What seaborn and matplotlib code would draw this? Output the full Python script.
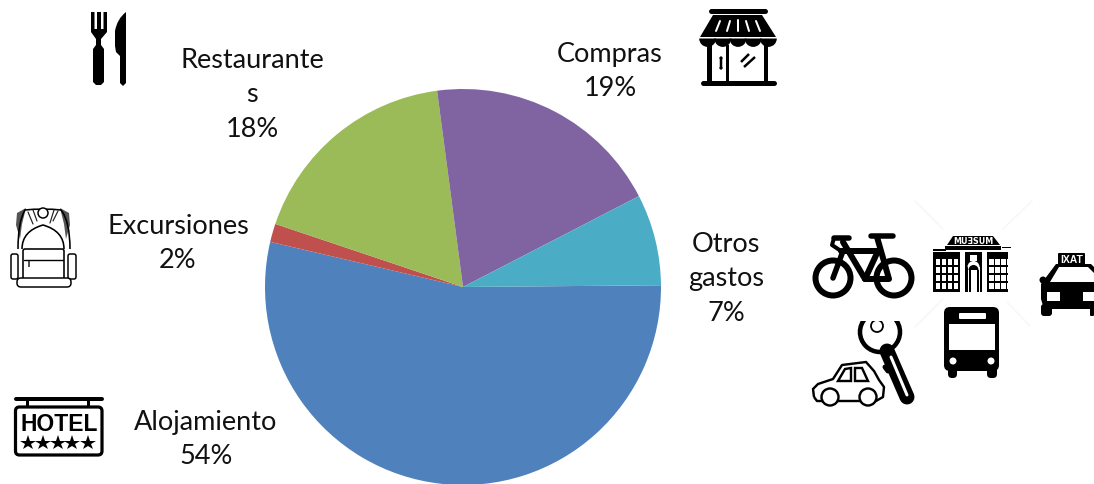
import matplotlib
matplotlib.use("Agg")
import matplotlib.pyplot as plt
import seaborn as sns
from matplotlib.patches import Circle, Polygon, Rectangle, FancyBboxPatch, PathPatch, Wedge
from matplotlib.path import Path

# =========================
# DATA
# =========================

categories = ["Alojamiento", "Excursiones", "Restaurantes", "Compras", "Otros gastos"]
slice_sizes = [53.8, 1.5, 17.75, 19.5, 7.45]
shown_labels = ["Alojamiento\n54%", "Excursiones\n2%", "Restaurante\ns\n18%", "Compras\n19%", "Otros\ngastos\n7%"]
slice_colors = ["#4F81BD", "#C0504D", "#9BBB59", "#8064A2", "#4BACC6"]

# label centres in pixels, same order as categories
label_x = [206, 178, 252, 610, 726]
label_y = [439.5, 243.5, 95, 71.5, 279]

sns.set_theme(style="white")
plt.rcParams["font.family"] = ["Lato", "DejaVu Sans"]

W, H = 1094, 485
CX, CY, R = 463, 288, 198
K = "black"

fig = plt.figure(figsize=(W / 100, H / 100), dpi=100, facecolor="white")

# pie axes sits on the pixel position of the circle
pie_ax = fig.add_axes([(CX - R) / W, 1 - (CY + R) / H, 2 * R / W, 2 * R / H])
pie_ax.pie(slice_sizes, colors=slice_colors, startangle=0.5, counterclock=False,
           radius=1, wedgeprops={"linewidth": 0}, normalize=True)
pie_ax.set_xlim(-1, 1)
pie_ax.set_ylim(-1, 1)
pie_ax.patch.set_alpha(0)

# overlay in image pixels, y goes down
ax = fig.add_axes([0, 0, 1, 1])
ax.set_xlim(0, W)
ax.set_ylim(H, 0)
ax.axis("off")
ax.patch.set_alpha(0)

for txt, x, y in zip(shown_labels, label_x, label_y):
    ax.text(x, y, txt, ha="center", va="center", fontsize=19.5, color="#111111", linespacing=1.47)


def px(v):
    return v * 0.72


def line(pts, lw, color=K, cap="round", **kw):
    xs, ys = zip(*pts)
    return ax.plot(xs, ys, color=color, lw=px(lw), solid_capstyle=cap, solid_joinstyle="round", **kw)[0]


def poly(pts, color=K, **kw):
    p = Polygon(pts, closed=True, facecolor=color, edgecolor="none", **kw)
    ax.add_patch(p)
    return p


def rect(x0, y0, x1, y1, color=K):
    ax.add_patch(Rectangle((x0, y0), x1 - x0, y1 - y0, facecolor=color, edgecolor="none"))


def rrect(x0, y0, x1, y1, r, fc=K, ec="none", lw=0):
    ax.add_patch(FancyBboxPatch((x0 + r, y0 + r), x1 - x0 - 2 * r, y1 - y0 - 2 * r,
                                boxstyle=f"round,pad={r}", facecolor=fc, edgecolor=ec, linewidth=px(lw)))


def ring(x, y, r, lw, fc="white", ec=K):
    c = Circle((x, y), r, facecolor=fc, edgecolor=ec, linewidth=px(lw))
    ax.add_patch(c)
    return c


# --- fork and knife ---
poly([(91, 13), (94.5, 13), (94.5, 30), (97, 30), (97, 13), (101, 13), (101, 30), (103.5, 30),
      (103.5, 13), (107, 13), (107, 33), (101, 40), (101, 46), (104, 50), (104, 83), (101, 86),
      (96, 86), (93, 83), (93, 50), (96, 46), (96, 40), (91, 33)])
ax.add_patch(PathPatch(Path([(126, 13), (117, 20), (115, 32), (115, 47), (116, 53), (120, 57), (120, 84),
                             (123, 87), (126, 84), (126, 13)],
                            [1, 3, 3, 2, 2, 2, 2, 2, 2, 2]), facecolor=K, edgecolor="none"))

# --- shop ---
line([(711, 12), (765, 12)], 5)
poly([(713, 16), (762, 16), (776, 38), (700, 38)])
for a, b in [((720, 22), (716, 32)), ((730, 22), (727, 32)), ((738, 21), (738, 32)),
             ((746, 22), (749, 32)), ((756, 22), (760, 32))]:
    line([a, b], 2, "white")
rect(707, 46, 712, 83)
rect(726, 46, 729, 83)
rect(764, 46, 768, 83)
for i in range(5):
    ax.add_patch(Wedge((707.6 + 15.2 * i, 39.5), 8.4, 0, 180, facecolor=K, edgecolor="none"))
line([(703, 83.5), (774, 83.5)], 5)
line([(721, 59), (721, 69)], 2.5)
ring(721, 59, 1.6, 0, fc=K)
ring(721, 69, 1.6, 0, fc=K)
line([(741, 63), (749, 55)], 2.5, cap="butt")
line([(744, 68), (755, 58)], 2.5, cap="butt")

# --- backpack ---
for pts in ([(16, 226), (17, 214), (26, 209), (22, 225), (20, 240)],
            [(70, 226), (69, 214), (60, 209), (64, 225), (66, 240)]):
    poly(pts, "#555555")
ax.add_patch(PathPatch(Path([(18, 250), (18, 222), (25, 211), (43, 209), (61, 211), (70, 222), (70, 250)],
                            [1, 3, 3, 3, 3, 3, 3]), facecolor="none", edgecolor=K, lw=px(1.6)))
ax.add_patch(PathPatch(Path([(22, 250), (22, 232), (43, 226), (64, 232), (64, 250)],
                            [1, 3, 3, 3, 3]), facecolor="none", edgecolor=K, lw=px(1.6)))
ring(43, 214, 5, 1.5)
for a, b in [((28, 213), (33, 225)), ((33, 211), (37, 222)), ((53, 222), (58, 212)), ((50, 224), (54, 211))]:
    line([a, b], 1.2, "#222222")
rrect(23, 250, 64, 280, 2, fc="white", ec=K, lw=1.6)
line([(24, 261), (63, 261)], 1.4)
rect(28, 262, 30, 268, "#555555")
rrect(11, 255, 18, 280, 2, fc="white", ec=K, lw=1.5)
rrect(68, 255, 76, 280, 2, fc="white", ec=K, lw=1.5)
rrect(17, 279, 71, 288, 4, fc="white", ec=K, lw=1.5)

# --- hotel sign ---
line([(16, 399.5), (102, 399.5)], 4)
rect(26, 400, 29, 408)
rect(87, 400, 90, 408)
rrect(15.5, 408, 102, 456, 4, fc="white", ec=K, lw=3.2)
ax.text(59, 424.5, "HOTEL", family="Liberation Sans", fontsize=16.5, weight="bold", ha="center", va="center", color=K)
ax.plot([28, 43, 58, 72, 88], [444] * 5, ls="none", marker="*", ms=11.5, color=K, mew=0)

# --- faint watermark behind the transport icons ---
for a, b in [((915, 202), (943, 230)), ((1032, 202), (1003, 230)), ((915, 328), (943, 300)), ((1030, 327), (1007, 303))]:
    line([a, b], 1.5, "#f7f7f7")

# --- bicycle ---
ring(833, 279, 17.5, 6, fc="none")
ring(894, 279, 17.5, 6, fc="none")
line([(834, 239), (849, 239)], 5.5)
line([(871, 237), (893, 237)], 5.5)
line([(834, 239), (832, 246), (841, 252)], 4)
line([(843, 243), (865, 280), (889, 280), (877, 238)], 6)
line([(841, 252), (878, 252)], 6)
line([(843, 252), (833, 279)], 5.5)
line([(878, 252), (865, 280)], 6)

# --- museum ---
poly([(947, 246), (953, 237), (993, 237), (1000, 246)])
ax.text(973.5, 241.5, "MUƎSUM", family="DejaVu Sans", fontsize=5.8, weight="bold", color="white", ha="center", va="center")
rect(945, 247, 1001, 251)
rect(933, 250, 946, 252)
rect(1002, 248, 1011, 249)
rect(933, 253, 960, 293)
rect(965, 253, 982, 293)
rect(987, 253, 1008, 293)
for x0 in (935.5, 989):
    for col in range(4):
        for row in range(4):
            if x0 > 950 and col == 3:
                rect(x0 + col * 6, 261 + row * 8 - 1, x0 + col * 6 + 1, 261 + row * 8 + 5, "white")
                continue
            rect(x0 + col * 6, 260 + row * 8, x0 + col * 6 + 4.5, 260 + row * 8 + 6, "white")
ax.add_patch(Wedge((973.5, 268), 6, 180, 360, facecolor="white", edgecolor="none"))
rect(967.5, 268, 979.5, 293, "white")
rect(970, 256, 977, 262, "white")
ax.add_patch(Wedge((973.5, 271), 5, 180, 360, facecolor=K, edgecolor="none"))
rect(968.5, 271, 970.5, 293)
rect(976.5, 271, 978.5, 293)

# --- taxi ---
rrect(1058, 254, 1085, 266, 1)
ax.text(1071.5, 260.5, "IXAT", family="Liberation Sans", fontsize=7.5, weight="bold", color="white", ha="center", va="center")
poly([(1047, 277), (1056, 265), (1091, 265), (1094, 268), (1094, 310), (1044, 310), (1041, 300), (1041, 285)])
poly([(1050, 283), (1059, 268), (1088, 268), (1094, 274), (1094, 283)], "white")
ring(1043, 281, 3.5, 0, fc=K)
rect(1047, 293, 1060, 302, "white")
rect(1083, 293, 1094, 302, "white")
rrect(1041, 305, 1052, 317, 3)
rrect(1090, 305, 1094, 317, 1)

# --- bus ---
rrect(944, 308, 999, 372, 6)
rrect(948, 365, 957, 379, 4)
rrect(987, 365, 997, 379, 4)
rect(949, 325, 995, 351, "white")
rrect(959, 314, 986, 320, 1, fc="white")
ring(953, 362, 3.5, 0, fc="white")
ring(991, 362, 3.5, 0, fc="white")

# --- car key ---
line([(887, 352), (907, 398)], 15)
line([(891, 358), (907, 396)], 3, "white")
line([(885, 368), (888, 372)], 5)
head = Circle((880, 333), 20, facecolor="white", edgecolor=K, linewidth=px(4.5))
ax.add_patch(head)
head.set_clip_path(Rectangle((850, 322), 70, 40, transform=ax.transData))
hole = ring(877, 327, 6, 1.8)
hole.set_clip_path(Rectangle((850, 322), 70, 40, transform=ax.transData))

# --- car ---
car = PathPatch(Path([(814, 398), (813, 390), (818, 385), (833, 380), (842, 366), (866, 363), (874, 372),
                      (879, 381), (884, 388), (883, 398), (876, 402), (817, 402), (814, 398)],
                     [1, 2, 2, 2, 2, 2, 2, 2, 2, 2, 2, 2, 2]),
                facecolor="white", edgecolor=K, lw=px(2.4), joinstyle="round")
ax.add_patch(car)
ax.add_patch(Polygon([(838, 382), (845, 370), (851, 369), (851, 382)], closed=True, fc="white", ec=K, lw=px(2.4)))
ax.add_patch(Polygon([(855, 382), (855, 369), (862, 369), (868, 382)], closed=True, fc="white", ec=K, lw=px(2.4)))
ring(830, 398, 8.5, 2.4)
ring(868, 398, 8.5, 2.4)

fig.savefig("out.png", dpi=100, facecolor="white")
